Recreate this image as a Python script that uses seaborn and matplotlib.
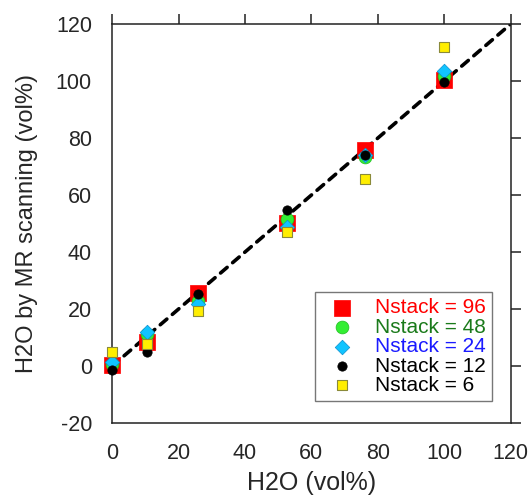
import matplotlib
matplotlib.use("Agg")
import matplotlib.pyplot as plt
import numpy as np
import pandas as pd
import seaborn as sns

# true water content (vol%)
h2o_true = [0, 10.5, 26, 52.5, 76, 100]

# measured by MR scanning, one list per stack count
n96 = [0.5, 8.3, 25.8, 50.2, 75.8, 100.5]
n48 = [0.6, 11.2, 23.0, 51.6, 73.2, 101.6]
n24 = [1.6, 11.8, 21.8, 48.8, 73.9, 103.4]
n12 = [-1.2, 4.8, 25.2, 54.7, 74.2, 99.7]
n6 = [4.9, 7.6, 19.2, 47.0, 65.5, 111.9]

labels = ["Nstack = 96", "Nstack = 48", "Nstack = 24", "Nstack = 12", "Nstack = 6"]
series = [n96, n48, n24, n12, n6]

sns.set_style("white")
plt.rcParams["font.family"] = ["Liberation Sans", "DejaVu Sans"]
plt.rcParams["axes.unicode_minus"] = False

fig = plt.figure(figsize=(5.31, 4.99), dpi=100)
ax = fig.add_axes([0.211, 0.152, 0.751, 0.800])

styles = [
    dict(marker="s", color="#ff0000", s=125, edgecolor="#ff0000", linewidth=0.5),
    dict(marker="o", color="#33ee33", s=85, edgecolor="#22bb22", linewidth=0.5),
    dict(marker="D", color="#10c4ff", s=55, edgecolor="#0a8fcf", linewidth=0.5),
    dict(marker="o", color="#000000", s=45, edgecolor="#000000", linewidth=0.5),
    dict(marker="s", color="#ffee00", s=48, edgecolor="#8a8a3a", linewidth=0.8),
]
text_colors = ["#ff0000", "#1a7a1a", "#1a1aff", "#000000", "#000000"]

line_x = [0, 120]
ax.plot(line_x, line_x, color="black", lw=2.6, linestyle=(0, (2.4, 2.0)),
        zorder=1, dash_capstyle="round")

for vals, lab, st in zip(series, labels, styles):
    df = pd.DataFrame({"x": h2o_true, "y": vals})
    sns.scatterplot(data=df, x="x", y="y", ax=ax, label=lab, zorder=3,
                    clip_on=False, **st)

ax.set_xlim(0, 120)
ax.set_ylim(-20, 120)
ax.set_xticks(np.arange(0, 121, 20))
ax.set_yticks(np.arange(-20, 121, 20))
ax.tick_params(axis="both", which="both", direction="out", length=7.5, width=1.1,
               labelsize=15.5, top=True, right=True, color="#222222", pad=7)
for sp in ax.spines.values():
    sp.set_visible(True)
    sp.set_linewidth(1.1)
    sp.set_color("#222222")

ax.set_xlabel("H2O (vol%)", fontsize=18, labelpad=5)
ax.set_ylabel("H2O by MR scanning (vol%)", fontsize=17, labelpad=13)

leg = ax.legend(loc="lower right", bbox_to_anchor=(0.952, 0.055), borderaxespad=0,
                fontsize=15, frameon=True, fancybox=False, handletextpad=0.55,
                labelspacing=0.02, borderpad=0.3, handlelength=2.0)
leg.get_frame().set_edgecolor("#555555")
leg.get_frame().set_linewidth(1.0)
for t, c in zip(leg.get_texts(), text_colors):
    t.set_color(c)

fig.savefig("out.png", dpi=100)
